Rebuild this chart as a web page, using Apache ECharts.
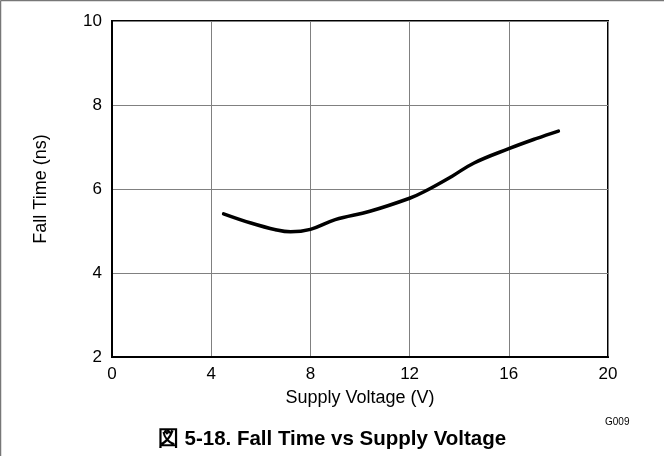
<!DOCTYPE html>
<html>
<head>
<meta charset="utf-8">
<script src="https://cdn.jsdelivr.net/npm/echarts@6/dist/echarts.min.js"></script>
<style>
html,body{margin:0;padding:0;background:#fff;}
#chart{width:664px;height:456px;}
</style>
</head>
<body>
<div id="chart"></div>
<script>
const supplyVoltage = [4.5, 5.6, 6.6, 7.2, 8.0, 9.0, 10.4, 12.0, 12.6, 13.7, 14.6, 16.0, 17.1, 18.0];
const fallTime      = [5.41, 5.19, 5.03, 4.98, 5.04, 5.27, 5.47, 5.78, 5.94, 6.30, 6.62, 6.96, 7.20, 7.38];
const xTicks = [0, 4, 8, 12, 16, 20];
const yTicks = [2, 4, 6, 8, 10];
const chartTitle = '図 5-18. Fall Time vs Supply Voltage';
const xName = 'Supply Voltage (V)';
const yName = 'Fall Time (ns)';
const codeLabel = 'G009';

const font = '"Liberation Sans", Arial, sans-serif';
const chart = echarts.init(document.getElementById('chart'), null, {renderer: 'canvas'});
chart.setOption({
  animation: false,
  backgroundColor: '#fff',
  title: {
    text: chartTitle,
    left: 'center',
    top: 424,
    textStyle: {fontFamily: font, fontSize: 20.5, fontWeight: 'bold', color: '#000'}
  },
  graphic: [
    {type: 'line', shape: {x1: 0.5, y1: 0.5, x2: 664, y2: 0.5}, style: {stroke: '#777', lineWidth: 1.5}},
    {type: 'line', shape: {x1: 0.5, y1: 0.5, x2: 0.5, y2: 456}, style: {stroke: '#777', lineWidth: 1.5}},
    {type: 'text', left: 605, top: 417, style: {text: codeLabel, font: '10px ' + font, fill: '#000'}}
  ],
  grid: {left: 112, right: 56, top: 21, bottom: 99, show: true, borderColor: '#000', borderWidth: 2},
  xAxis: {
    type: 'value', min: xTicks[0], max: xTicks[xTicks.length - 1], interval: 4,
    name: xName, nameLocation: 'middle', nameGap: 32,
    nameTextStyle: {fontFamily: font, fontSize: 18, color: '#000'},
    axisLine: {show: true, lineStyle: {color: '#000', width: 2}},
    axisTick: {show: false},
    axisLabel: {fontFamily: font, fontSize: 17, color: '#000', margin: 9},
    splitLine: {show: true, lineStyle: {color: '#808080', width: 1}}
  },
  yAxis: {
    type: 'value', min: yTicks[0], max: yTicks[yTicks.length - 1], interval: 2,
    name: yName, nameLocation: 'middle', nameGap: 62,
    nameTextStyle: {fontFamily: font, fontSize: 18, color: '#000'},
    axisLine: {show: true, lineStyle: {color: '#000', width: 2}},
    axisTick: {show: false},
    axisLabel: {fontFamily: font, fontSize: 17, color: '#000', margin: 10},
    splitLine: {show: true, lineStyle: {color: '#808080', width: 1}}
  },
  series: [{
    type: 'line',
    data: supplyVoltage.map((v, i) => [v, fallTime[i]]),
    smooth: 0.4,
    showSymbol: false,
    lineStyle: {color: '#000', width: 3.5, cap: 'round'}
  }]
});
</script>
</body>
</html>
